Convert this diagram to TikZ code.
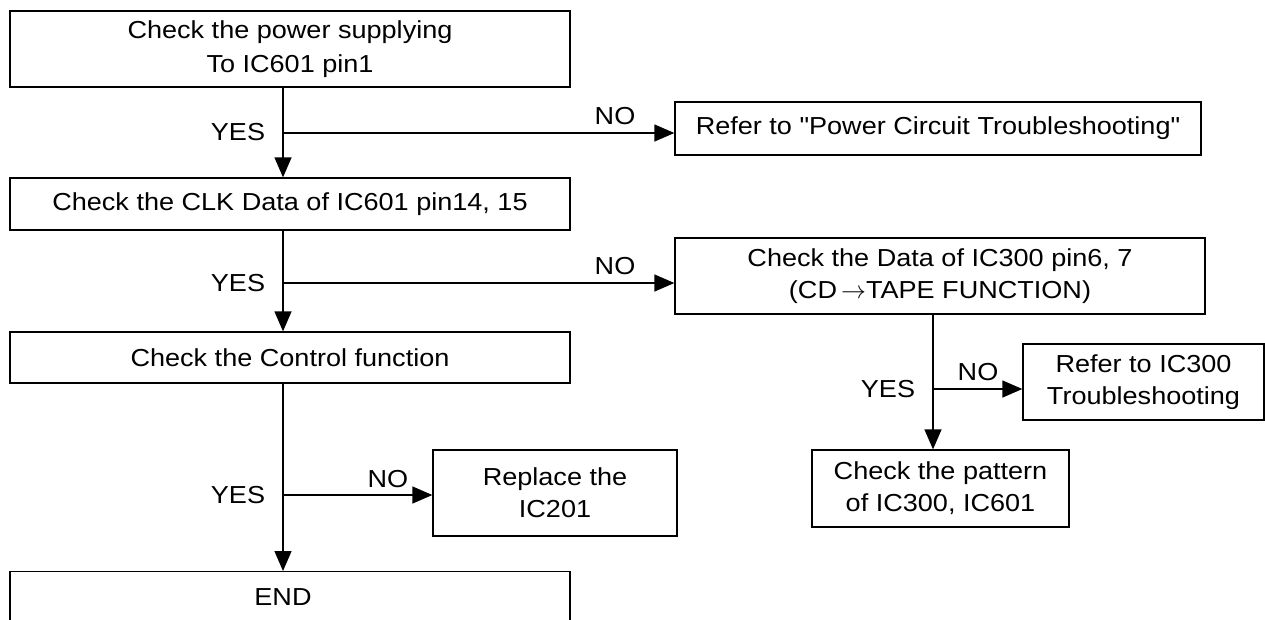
\documentclass[tikz,border=0pt]{standalone}
\usepackage{fontspec}
\newfontfamily\lib{Liberation Sans}[FakeStretch=1.1]
\usetikzlibrary{arrows.meta}
\begin{document}
\begin{tikzpicture}[x=1pt,y=-1pt,
  box/.style={draw, line width=1.3pt, inner sep=0pt, align=center, font=\lib\fontsize{24.6}{32}\selectfont},
  lbl/.style={inner sep=0pt, font=\lib\fontsize{24.6}{26}\selectfont},
  conn/.style={line width=1.3pt},
  arr/.style={conn, -{Triangle[length=20pt,width=17pt]}}]
\useasboundingbox (0,0) rectangle (1265,619);
% boxes
\node[box, minimum width=560, minimum height=76, font=\lib\fontsize{24.6}{34}\selectfont] (b1) at (290,49) {Check the power supplying\\To IC601 pin1};
\node[box, minimum width=526, minimum height=53] (r1) at (938,128.5) {Refer to "Power Circuit Troubleshooting"};
\node[box, minimum width=560, minimum height=52] (b2) at (290,204) {Check the CLK Data of IC601 pin14, 15};
\node[box, minimum width=530, minimum height=76] (c3) at (940,276) {Check the Data of IC300 pin6, 7\\(CD\,$\rightarrow$TAPE FUNCTION)};
\node[box, minimum width=560, minimum height=51] (b3) at (290,357.5) {Check the Control function};
\node[box, minimum width=244, minimum height=86] (rp) at (555,493) {Replace the\\IC201};
\node[box, minimum width=241, minimum height=76] (t3) at (1143.5,382) {Refer to IC300\\Troubleshooting};
\node[box, minimum width=257, minimum height=77] (pt) at (940.5,488.5) {Check the pattern\\of IC300, IC601};
\node[box, minimum width=560, minimum height=100, anchor=north] (en) at (290,571) {};
\node[lbl] (endtxt) at (283,597) {END};
% spines
\coordinate (sp) at (283,0);
\coordinate (sr) at (933,0);
\coordinate (j1) at (283,133);
\coordinate (j2) at (283,283);
\coordinate (j3) at (283,495);
\coordinate (j4) at (933,389);
% connectors
\draw[arr] (b1.south -| sp) -- (b2.north -| sp);
\draw[arr] (j1) -- (j1 -| r1.west);
\draw[arr] (b2.south -| sp) -- (b3.north -| sp);
\draw[arr] (j2) -- (j2 -| c3.west);
\draw[arr] (b3.south -| sp) -- (en.north -| sp);
\draw[arr] (j3) -- (j3 -| rp.west);
\draw[arr] (c3.south -| sr) -- (pt.north -| sr);
\draw[arr] (j4) -- (j4 -| t3.west);
% labels
\node[lbl] (y1) at (238,132) {YES};
\node[lbl] (n1) at (615,116) {NO};
\node[lbl] (y2) at (238,283) {YES};
\node[lbl] (n2) at (615,266) {NO};
\node[lbl] (y3) at (238,495) {YES};
\node[lbl] (n3) at (388,479) {NO};
\node[lbl] (y4) at (888,389) {YES};
\node[lbl] (n4) at (978,372) {NO};
\end{tikzpicture}
\end{document}
